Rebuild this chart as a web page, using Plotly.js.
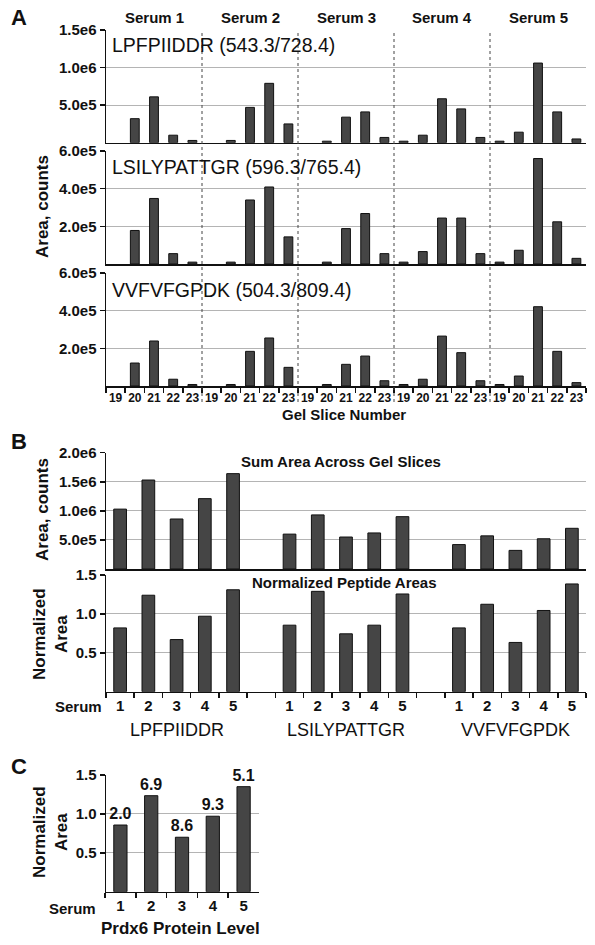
<!DOCTYPE html>
<html>
<head>
<meta charset="utf-8">
<script src="https://cdn.plot.ly/plotly-3.0.1.min.js"></script>
<style>html,body{margin:0;padding:0;background:#fff;}#chart{width:595px;height:945px;}</style>
</head>
<body>
<div id="chart"></div>
<script>
// ---------------- DATA ----------------
const sera = ['Serum 1', 'Serum 2', 'Serum 3', 'Serum 4', 'Serum 5'];
const serumNums = ['1', '2', '3', '4', '5'];
const slices = ['19', '20', '21', '22', '23'];
const peptides = ['LPFPIIDDR', 'LSILYPATTGR', 'VVFVFGPDK'];
const peptideMz = ['(543.3/728.4)', '(596.3/765.4)', '(504.3/809.4)'];

// Panel A: area per gel slice (Serum1 19..23, Serum2 19..23, ...)
const areaLPFPIIDDR = [null, 3.2e5, 6.1e5, 1.0e5, 0.3e5,  null, 0.3e5, 4.7e5, 7.9e5, 2.5e5,  null, 0.2e5, 3.4e5, 4.1e5, 0.7e5,  0.2e5, 1.0e5, 5.85e5, 4.5e5, 0.7e5,  0.2e5, 1.4e5, 10.6e5, 4.1e5, 0.5e5];
const areaLSILYPATTGR = [null, 1.78e5, 3.48e5, 0.55e5, 0.1e5,  null, 0.1e5, 3.4e5, 4.09e5, 1.44e5,  null, 0.1e5, 1.88e5, 2.68e5, 0.55e5,  0.1e5, 0.66e5, 2.44e5, 2.44e5, 0.55e5,  0.1e5, 0.73e5, 5.6e5, 2.24e5, 0.3e5];
const areaVVFVFGPDK = [null, 1.22e5, 2.39e5, 0.36e5, 0.08e5,  null, 0.08e5, 1.84e5, 2.55e5, 0.99e5,  null, 0.08e5, 1.15e5, 1.59e5, 0.28e5,  0.08e5, 0.36e5, 2.65e5, 1.77e5, 0.28e5,  0.08e5, 0.53e5, 4.21e5, 1.84e5, 0.18e5];

// Panel B: sum area across gel slices, and normalized areas (per peptide, Serum 1..5)
const sumLPFPIIDDR = [1.03e6, 1.53e6, 0.86e6, 1.21e6, 1.64e6];
const sumLSILYPATTGR = [0.60e6, 0.93e6, 0.55e6, 0.62e6, 0.90e6];
const sumVVFVFGPDK = [0.42e6, 0.57e6, 0.32e6, 0.52e6, 0.70e6];
const normLPFPIIDDR = [0.82, 1.24, 0.67, 0.97, 1.31];
const normLSILYPATTGR = [0.855, 1.29, 0.744, 0.855, 1.256];
const normVVFVFGPDK = [0.82, 1.124, 0.633, 1.044, 1.385];

// Panel C: Prdx6 protein level
const prdx6Norm = [0.857, 1.234, 0.70, 0.97, 1.35];
const prdx6Level = ['2.0', '6.9', '8.6', '9.3', '5.1'];

// Tick labels
const tickA1 = {vals: [5e5, 1e6, 1.5e6], text: ['5.0e5', '1.0e6', '1.5e6']};
const tickA23 = {vals: [2e5, 4e5, 6e5], text: ['2.0e5', '4.0e5', '6.0e5']};
const tickB1 = {vals: [5e5, 1e6, 1.5e6, 2e6], text: ['5.0e5', '1.0e6', '1.5e6', '2.0e6']};
const tickNorm = {vals: [0.5, 1.0, 1.5], text: ['0.5', '1.0', '1.5']};

// ---------------- BUILD ----------------
const W = 595, H = 945;
const px = x => x / W;
const py = y => 1 - y / H;
const FONT = 'Arial, "Liberation Sans", sans-serif';
const BAR = '#454545';

// Panel A categories
const catA = [], tickTextA = [];
sera.forEach((s, i) => slices.forEach(sl => { catA.push(s + '|' + sl); tickTextA.push(sl); }));

// Panel B categories (with empty gap slots between peptides)
const catB = [], tickTextB = [];
const sumB = [], normB = [];
const sums = [sumLPFPIIDDR, sumLSILYPATTGR, sumVVFVFGPDK];
const norms = [normLPFPIIDDR, normLSILYPATTGR, normVVFVFGPDK];
peptides.forEach((p, g) => {
  if (g > 0) { catB.push('gap' + g); tickTextB.push(''); sumB.push(null); normB.push(null); }
  serumNums.forEach((n, i) => { catB.push(p + '|' + n); tickTextB.push(n); sumB.push(sums[g][i]); normB.push(norms[g][i]); });
});

const barStyle = {color: BAR, line: {color: '#111', width: 1}};
const traces = [
  {type: 'bar', x: catA, y: areaLPFPIIDDR, xaxis: 'x', yaxis: 'y', marker: barStyle, width: 0.46},
  {type: 'bar', x: catA, y: areaLSILYPATTGR, xaxis: 'x2', yaxis: 'y2', marker: barStyle, width: 0.46},
  {type: 'bar', x: catA, y: areaVVFVFGPDK, xaxis: 'x3', yaxis: 'y3', marker: barStyle, width: 0.46},
  {type: 'bar', x: catB, y: sumB, xaxis: 'x4', yaxis: 'y4', marker: barStyle, width: 0.45},
  {type: 'bar', x: catB, y: normB, xaxis: 'x5', yaxis: 'y5', marker: barStyle, width: 0.45},
  {type: 'bar', x: serumNums, y: prdx6Norm, xaxis: 'x6', yaxis: 'y6', marker: barStyle, width: 0.43,
   text: prdx6Level, textposition: 'outside', cliponaxis: false, constraintext: 'none',
   textfont: {family: FONT, size: 16, color: '#111', weight: 'bold'}}
];

const tickFont = {family: FONT, size: 15, color: '#111', weight: 'bold'};
function yax(dom, range, t) {
  return {domain: dom, range: range, tickmode: 'array', tickvals: t.vals, ticktext: t.text,
    showgrid: true, gridcolor: '#b4b4b4', gridwidth: 1, zeroline: false,
    showline: true, linecolor: '#111', linewidth: 1.5, ticks: 'outside', ticklen: 5, tickwidth: 1.5, tickcolor: '#111',
    tickfont: tickFont, fixedrange: true, automargin: false};
}
function xax(dom, anchor, cats, ticktext, showLabels, labelSize) {
  return {domain: dom, anchor: anchor, type: 'category', categoryorder: 'array', categoryarray: cats,
    range: [-0.5, cats.length - 0.5],
    tickmode: 'array', tickvals: cats, ticktext: ticktext, showticklabels: showLabels, tickangle: 0,
    ticks: showLabels ? 'outside' : '', tickson: 'boundaries', ticklen: 5, tickwidth: 1.5, tickcolor: '#111',
    showgrid: false, zeroline: false, showline: true, linecolor: '#111', linewidth: 1.5,
    tickfont: Object.assign({}, tickFont, {size: labelSize}), fixedrange: true, automargin: false};
}

const xDomAB = [px(106), px(586)];
const layout = {
  width: W, height: H, margin: {l: 0, r: 0, t: 0, b: 0},
  paper_bgcolor: '#fff', plot_bgcolor: 'rgba(0,0,0,0)',
  showlegend: false, font: {family: FONT, color: '#111'},
  xaxis: xax(xDomAB, 'y', catA, tickTextA, false, 12),
  yaxis: yax([py(142.7), py(30)], [0, 1.5e6], tickA1),
  xaxis2: xax(xDomAB, 'y2', catA, tickTextA, false, 12),
  yaxis2: yax([py(264), py(151)], [0, 6e5], tickA23),
  xaxis3: xax(xDomAB, 'y3', catA, tickTextA, true, 12),
  yaxis3: yax([py(386), py(273)], [0, 6e5], tickA23),
  xaxis4: xax(xDomAB, 'y4', catB, tickTextB, false, 15),
  yaxis4: yax([py(569), py(452.7)], [0, 2e6], tickB1),
  xaxis5: xax(xDomAB, 'y5', catB, tickTextB, true, 15),
  yaxis5: yax([py(691.7), py(575)], [0, 1.5], tickNorm),
  xaxis6: xax([px(105), px(259)], 'y6', serumNums, serumNums, true, 15),
  yaxis6: yax([py(891.7), py(775)], [0, 1.5], tickNorm),
  shapes: [], annotations: []
};

// dashed separators between sera in panel A
for (let i = 1; i < sera.length; i++) {
  const xs = i * slices.length - 0.5;
  layout.shapes.push({type: 'line', xref: 'x', yref: 'paper', x0: xs, x1: xs, y0: py(402), y1: py(30),
    line: {color: '#444', width: 1, dash: '3px,3px'}});
}

const ann = (o) => layout.annotations.push(Object.assign({showarrow: false, xref: 'paper', yref: 'paper'}, o));
const boldF = (s) => ({family: FONT, size: s, color: '#111', weight: 'bold'});
const normF = (s) => ({family: FONT, size: s, color: '#111'});

// panel letters
ann({text: 'A', x: px(19), y: py(17), xanchor: 'center', yanchor: 'middle', font: boldF(22)});
ann({text: 'B', x: px(19), y: py(441), xanchor: 'center', yanchor: 'middle', font: boldF(22)});
ann({text: 'C', x: px(19), y: py(766), xanchor: 'center', yanchor: 'middle', font: boldF(22)});

// Serum headers in panel A
sera.forEach((s, i) => {
  ann({text: s, xref: 'x', x: s + '|' + slices[2], y: py(17), xanchor: 'center', yanchor: 'middle', font: boldF(15)});
});
// peptide titles in panel A
const titleY = [45, 167, 290];
peptides.forEach((p, g) => {
  ann({text: p + ' ' + peptideMz[g], x: px(110), y: py(titleY[g]), xanchor: 'left', yanchor: 'middle', font: normF(19.5)});
});
// axis titles
ann({text: 'Area, counts', x: px(42), y: py(207), textangle: -90, xanchor: 'center', yanchor: 'middle', font: boldF(17)});
ann({text: 'Gel Slice Number', x: px(344), y: py(414), xanchor: 'center', yanchor: 'middle', font: boldF(15)});
ann({text: 'Sum Area Across Gel Slices', x: px(341), y: py(461), xanchor: 'center', yanchor: 'middle', font: boldF(15)});
ann({text: 'Area, counts', x: px(42), y: py(510), textangle: -90, xanchor: 'center', yanchor: 'middle', font: boldF(17)});
ann({text: 'Normalized Peptide Areas', x: px(344), y: py(582), xanchor: 'center', yanchor: 'middle', font: boldF(15)});
ann({text: 'Normalized<br>Area', x: px(50), y: py(634), textangle: -90, xanchor: 'center', yanchor: 'middle', font: boldF(17)});
ann({text: 'Serum', x: px(104), y: py(706.5), xanchor: 'right', yanchor: 'middle', font: boldF(15)});
// peptide group labels in panel B
peptides.forEach((p) => {
  ann({text: p, xref: 'x5', x: p + '|' + serumNums[2], y: py(730), xanchor: 'center', yanchor: 'middle', font: normF(18)});
});
// panel C
ann({text: 'Normalized<br>Area', x: px(50), y: py(832), textangle: -90, xanchor: 'center', yanchor: 'middle', font: boldF(17)});
ann({text: 'Serum', x: px(98), y: py(908), xanchor: 'right', yanchor: 'middle', font: boldF(15)});
ann({text: 'Prdx6 Protein Level', x: px(181), y: py(928), xanchor: 'center', yanchor: 'middle', font: boldF(17)});

Plotly.newPlot('chart', traces, layout, {staticPlot: true, displayModeBar: false});
</script>
</body>
</html>
